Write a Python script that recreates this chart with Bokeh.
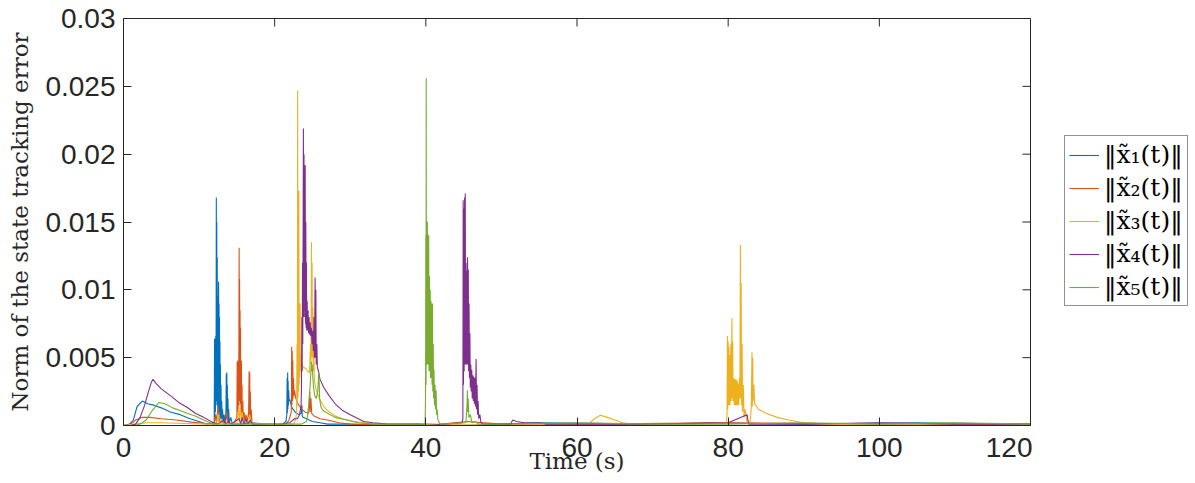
import math
from bokeh.plotting import figure
from bokeh.layouts import row
from bokeh.models import Range1d, FixedTicker
from bokeh.embed import file_html
from bokeh.resources import INLINE

# ---------------- data ----------------
series_names = ["‖x̃₁(t)‖", "‖x̃₂(t)‖", "‖x̃₃(t)‖", "‖x̃₄(t)‖", "‖x̃₅(t)‖"]
series_colors = ["#0072BD", "#D95319", "#EDB120", "#7E2F8E", "#77AC30"]

x_ticks = [0, 20, 40, 60, 80, 100, 120]
x_tick_labels = ["0", "20", "40", "60", "80", "100", "120"]
y_ticks = [0, 0.005, 0.01, 0.015, 0.02, 0.025, 0.03]
y_tick_labels = ["0", "0.005", "0.01", "0.015", "0.02", "0.025", "0.03"]

# (time [s], error norm)
err1 = [(0, 0), (0.8, 0.0001), (1.3, 0.0004), (1.8, 0.0014), (2.5, 0.0018), (3.2, 0.0016),
        (4.0, 0.0015), (5.0, 0.0013), (6.2, 0.0010), (7.5, 0.0008), (8.8, 0.0005),
        (10.0, 0.0003), (11.0, 0.0001), (12.0, 0.0002),
        (12.05, 0.0064), (12.08, 0.0006), (12.12, 0.0062), (12.16, 0.0010), (12.20, 0.0066),
        (12.24, 0.0015), (12.28, 0.0168), (12.31, 0.0020), (12.34, 0.0150), (12.37, 0.0018),
        (12.40, 0.0124), (12.43, 0.0015), (12.46, 0.0095), (12.49, 0.0012), (12.52, 0.0085),
        (12.55, 0.0010), (12.58, 0.0106), (12.61, 0.0012), (12.64, 0.0090), (12.67, 0.0010),
        (12.70, 0.0080), (12.73, 0.0008), (12.76, 0.0062), (12.79, 0.0006), (12.82, 0.0045),
        (12.86, 0.0005), (12.90, 0.0030), (12.95, 0.0004), (13.00, 0.0018), (13.05, 0.0003),
        (13.10, 0.0012), (13.20, 0.0002), (13.30, 0.0008), (13.45, 0.0002), (13.55, 0.0010),
        (13.60, 0.0038), (13.63, 0.0005), (13.67, 0.0039), (13.70, 0.0006), (13.74, 0.0030),
        (13.78, 0.0004), (13.82, 0.0020), (13.87, 0.0003), (13.92, 0.0012), (14.0, 0.0002),
        (14.2, 0.0006), (14.4, 0.0001), (15.5, 0.0001), (17.0, 0.0002), (19.0, 0.0001),
        (21.0, 0.0001), (21.5, 0.0003), (21.60, 0.0008), (21.65, 0.0035), (21.68, 0.0009),
        (21.72, 0.0039), (21.75, 0.0012), (21.78, 0.0033), (21.82, 0.0015), (21.86, 0.0026),
        (21.92, 0.0018), (22.0, 0.0019), (22.3, 0.0013), (22.7, 0.0010), (23.2, 0.0008),
        (23.5, 0.0009), (23.6, 0.0015), (23.65, 0.0007), (23.75, 0.0006), (24.2, 0.0005),
        (25.0, 0.0003), (26.0, 0.0002), (27.0, 0.0001), (30.0, 0.0001), (35.0, 0.0),
        (40.0, 0.0001), (45.0, 0.0), (55.0, 0.0002), (70.0, 0.0001), (78.0, 0.0002),
        (90.0, 0.0001), (105.0, 0.0002), (120.0, 0.0001)]

err2 = [(0, 0), (1.0, 0.0001), (1.6, 0.0004), (2.5, 0.0006), (3.5, 0.0006), (5.0, 0.0005),
        (7.0, 0.0004), (9.0, 0.00025), (11.0, 0.00015), (12.0, 0.0001), (12.2, 0.0008),
        (12.3, 0.0002), (12.5, 0.0014), (12.7, 0.0003), (13.5, 0.0002), (13.7, 0.0010),
        (13.8, 0.0002), (14.5, 0.0001), (15.00, 0.0006), (15.04, 0.0047), (15.08, 0.0010),
        (15.12, 0.0048), (15.16, 0.0012), (15.20, 0.0045), (15.24, 0.0015), (15.30, 0.0131),
        (15.33, 0.0020), (15.36, 0.0108), (15.39, 0.0018), (15.42, 0.0085), (15.45, 0.0015),
        (15.48, 0.0072), (15.51, 0.0012), (15.54, 0.0047), (15.57, 0.0010), (15.60, 0.0048),
        (15.64, 0.0008), (15.68, 0.0030), (15.72, 0.0006), (15.78, 0.0018), (15.85, 0.0004),
        (15.95, 0.0010), (16.05, 0.0003), (16.2, 0.0008), (16.4, 0.0003), (16.55, 0.0010),
        (16.62, 0.0040), (16.66, 0.0006), (16.70, 0.0039), (16.74, 0.0006), (16.78, 0.0025),
        (16.83, 0.0004), (16.90, 0.0012), (17.0, 0.0002), (17.3, 0.0001), (21.5, 0.0001),
        (21.9, 0.0004), (22.20, 0.0010), (22.25, 0.0058), (22.28, 0.0015), (22.32, 0.0055),
        (22.36, 0.0018), (22.40, 0.0048), (22.44, 0.0020), (22.50, 0.0035), (22.56, 0.0022),
        (22.62, 0.0026), (22.8, 0.0020), (23.0, 0.0017), (23.3, 0.0014), (23.6, 0.0012),
        (24.0, 0.0010), (24.5, 0.0009), (24.65, 0.0025), (24.7, 0.0010), (24.8, 0.0020),
        (24.9, 0.0009), (25.2, 0.0007), (26.0, 0.0005), (27.0, 0.0004), (28.5, 0.0002),
        (30.0, 0.0001), (40.0, 0.0), (45.5, 0.0003), (50.0, 0.0001), (60.0, 0.0001),
        (80.0, 0.0002), (100.0, 0.0001), (120.0, 0.0001)]

err3 = [(0, 0), (1.5, 0.0001), (3.0, 0.0002), (5.0, 0.0002), (8.0, 0.00015), (11.0, 0.0001),
        (12.3, 0.0001), (12.5, 0.0008), (12.6, 0.0002), (13.0, 0.0005), (13.2, 0.0001),
        (15.0, 0.0002), (15.2, 0.0012), (15.3, 0.0003), (15.45, 0.0016), (15.55, 0.0003),
        (15.7, 0.0010), (15.9, 0.0002), (16.6, 0.0003), (16.7, 0.0008), (16.9, 0.0002),
        (18.0, 0.0001), (22.5, 0.0001), (22.8, 0.0005), (22.90, 0.0010), (22.96, 0.0060),
        (23.00, 0.0015), (23.04, 0.0247), (23.08, 0.0020), (23.12, 0.0173), (23.16, 0.0025),
        (23.20, 0.0173), (23.24, 0.0030), (23.28, 0.0090), (23.32, 0.0035), (23.36, 0.0090),
        (23.40, 0.0040), (23.45, 0.0053), (23.5, 0.0046), (23.8, 0.0043), (24.1, 0.0042),
        (24.4, 0.0040), (24.6, 0.0039), (24.75, 0.0060), (24.80, 0.0045), (24.87, 0.0135),
        (24.91, 0.0050), (24.95, 0.0120), (25.00, 0.0050), (25.05, 0.0087), (25.10, 0.0040),
        (25.18, 0.0060), (25.25, 0.0033), (25.5, 0.0026), (26.0, 0.0019), (26.5, 0.0014),
        (27.0, 0.0011), (28.0, 0.0007), (29.0, 0.0005), (30.5, 0.0003), (32.0, 0.0002),
        (34.0, 0.0001), (40.0, 0.0001), (50.0, 0.0), (60.0, 0.0001), (61.5, 0.0001),
        (62.3, 0.0005), (63.1, 0.00075), (64.0, 0.0006), (65.0, 0.0004), (66.0, 0.0002),
        (67.5, 0.0001), (75.0, 0.0001), (79.8, 0.0002), (79.85, 0.0010), (79.9, 0.0066),
        (79.95, 0.0012), (80.0, 0.0062), (80.05, 0.0015), (80.1, 0.0058), (80.15, 0.0015),
        (80.2, 0.0052), (80.25, 0.0015), (80.35, 0.0060), (80.4, 0.0018), (80.5, 0.0079),
        (80.55, 0.0020), (80.6, 0.0062), (80.65, 0.0018), (80.75, 0.0035), (80.8, 0.0015),
        (80.9, 0.0034), (80.95, 0.0015), (81.05, 0.0034), (81.1, 0.0015), (81.2, 0.0033),
        (81.25, 0.0015), (81.35, 0.0031), (81.4, 0.0015), (81.5, 0.0035), (81.55, 0.0020),
        (81.62, 0.0133), (81.67, 0.0020), (81.72, 0.0105), (81.77, 0.0015), (81.85, 0.0060),
        (81.9, 0.0010), (82.0, 0.0030), (82.1, 0.0006), (82.25, 0.0012), (82.5, 0.0002),
        (82.9, 0.0003), (83.05, 0.0012), (83.15, 0.0054), (83.2, 0.0014), (83.25, 0.0050),
        (83.3, 0.0018), (83.4, 0.0030), (83.5, 0.0016), (83.65, 0.0015), (84.0, 0.0012),
        (85.0, 0.0009), (86.5, 0.0006), (88.0, 0.0004), (90.0, 0.0002), (93.0, 0.0001),
        (100.0, 0.0001), (110.0, 0.0001), (120.0, 0.0001)]

err4 = [(0, 0), (1.0, 0.0), (1.6, 0.0001), (2.2, 0.0006), (2.8, 0.0015), (3.3, 0.0025),
        (3.7, 0.0032), (3.9, 0.0034), (4.3, 0.0031), (5.0, 0.0027), (6.2, 0.0022),
        (7.3, 0.0017), (8.4, 0.00135), (9.5, 0.0009), (10.6, 0.0006), (11.9, 0.0002),
        (12.5, 0.0001), (13.3, 0.0004), (13.5, 0.0001), (13.9, 0.0003), (14.2, 0.0001),
        (15.3, 0.0005), (15.5, 0.0001), (15.7, 0.0006), (15.9, 0.0001), (16.2, 0.0005),
        (16.4, 0.0001), (16.8, 0.0004), (17.0, 0.0001), (20.0, 0.0), (22.0, 0.0002),
        (22.6, 0.0005), (23.0, 0.0005), (23.3, 0.0008), (23.5, 0.0015), (23.55, 0.0030),
        (23.60, 0.0080), (23.64, 0.0040), (23.68, 0.0120), (23.72, 0.0060), (23.80, 0.0219),
        (23.84, 0.0080), (23.88, 0.0200), (23.92, 0.0085), (23.96, 0.0190), (24.00, 0.0080),
        (24.04, 0.0192), (24.08, 0.0075), (24.12, 0.0150), (24.16, 0.0072), (24.20, 0.0120),
        (24.24, 0.0070), (24.30, 0.0092), (24.35, 0.0070), (24.42, 0.0085), (24.48, 0.0068),
        (24.55, 0.0080), (24.62, 0.0067), (24.70, 0.0076), (24.78, 0.0066), (24.85, 0.0072),
        (24.95, 0.0060), (25.05, 0.0070), (25.12, 0.0055), (25.20, 0.0080), (25.26, 0.0050),
        (25.35, 0.0109), (25.40, 0.0050), (25.45, 0.0100), (25.50, 0.0045), (25.58, 0.0060),
        (25.65, 0.0043), (25.8, 0.0040), (26.0, 0.0034), (26.5, 0.0028), (27.2, 0.0022),
        (28.0, 0.0016), (29.0, 0.0011), (30.0, 0.0008), (31.8, 0.0003), (33.0, 0.0002),
        (35.0, 0.0001), (39.0, 0.0001), (40.2, 0.0), (44.8, 0.0002), (44.90, 0.0005),
        (44.94, 0.0166), (44.98, 0.0030), (45.03, 0.0160), (45.07, 0.0040), (45.13, 0.0168),
        (45.17, 0.0045), (45.22, 0.0171), (45.26, 0.0045), (45.32, 0.0120), (45.36, 0.0045),
        (45.42, 0.0114), (45.46, 0.0045), (45.52, 0.0124), (45.56, 0.0045), (45.62, 0.0115),
        (45.66, 0.0040), (45.72, 0.0090), (45.77, 0.0035), (45.83, 0.0068), (45.88, 0.0028),
        (45.95, 0.0045), (46.00, 0.0025), (46.08, 0.0041), (46.14, 0.0020), (46.22, 0.0037),
        (46.28, 0.0018), (46.36, 0.0036), (46.42, 0.0016), (46.50, 0.0035), (46.56, 0.0014),
        (46.65, 0.0049), (46.70, 0.0012), (46.78, 0.0030), (46.84, 0.0008), (46.92, 0.0018),
        (47.0, 0.0005), (47.15, 0.0008), (47.3, 0.0002), (47.6, 0.0001), (50.0, 0.0001),
        (51.2, 0.0001), (51.5, 0.0004), (52.0, 0.0003), (53.0, 0.0002), (55.0, 0.0002),
        (56.0, 0.0001), (60.0, 0.0001), (70.0, 0.0001), (80.0, 0.0002), (82.5, 0.0008),
        (82.7, 0.0001), (90.0, 0.0001), (100.0, 0.0002), (110.0, 0.0001), (120.0, 0.0001)]

err5 = [(0, 0), (1.5, 0.0), (2.2, 0.0001), (3.0, 0.0004), (3.8, 0.0011), (4.7, 0.0017),
        (5.5, 0.0016), (6.5, 0.0013), (7.5, 0.0011), (8.4, 0.0009), (9.5, 0.0007),
        (10.6, 0.0004), (11.9, 0.0001), (13.0, 0.0001), (18.0, 0.0001), (22.0, 0.0001),
        (23.5, 0.0001), (24.2, 0.0003), (24.3, 0.0005), (24.5, 0.0015), (24.7, 0.0030),
        (24.87, 0.0047), (24.92, 0.0040), (24.97, 0.0045), (25.05, 0.0035), (25.15, 0.0028),
        (25.3, 0.0022), (25.5, 0.0020), (25.7, 0.0025), (25.8, 0.0036), (25.85, 0.0039),
        (25.9, 0.0030), (25.95, 0.0020), (26.1, 0.0014), (26.4, 0.0011), (27.0, 0.0009),
        (28.0, 0.0006), (29.5, 0.0004), (31.0, 0.0002), (33.0, 0.0001), (39.9, 0.0001),
        (39.96, 0.0020), (40.00, 0.0140), (40.03, 0.0030), (40.05, 0.0256), (40.08, 0.0045),
        (40.12, 0.0151), (40.16, 0.0045), (40.20, 0.0150), (40.24, 0.0045), (40.29, 0.0141),
        (40.33, 0.0045), (40.38, 0.0140), (40.42, 0.0040), (40.48, 0.0110), (40.52, 0.0040),
        (40.58, 0.0100), (40.62, 0.0035), (40.68, 0.0092), (40.72, 0.0035), (40.78, 0.0090),
        (40.82, 0.0030), (40.88, 0.0090), (40.92, 0.0025), (40.98, 0.0060), (41.03, 0.0020),
        (41.08, 0.0041), (41.14, 0.0015), (41.22, 0.0030), (41.28, 0.0012), (41.36, 0.0026),
        (41.42, 0.0008), (41.5, 0.0012), (41.6, 0.0004), (41.9, 0.0001), (45.3, 0.0002),
        (45.45, 0.0015), (45.5, 0.0026), (45.55, 0.0010), (45.6, 0.0020), (45.7, 0.0006),
        (45.9, 0.0008), (46.1, 0.0002), (46.5, 0.0003), (47.0, 0.0001), (50.0, 0.0001),
        (60.0, 0.0002), (70.0, 0.0001), (80.0, 0.0001), (90.0, 0.0002), (100.0, 0.0001),
        (110.0, 0.0002), (120.0, 0.0001)]

all_series = [err1, err2, err3, err4, err5]

# ---------------- main figure ----------------
AX = "#262626"
X0, X1 = x_ticks[0], x_ticks[-1]
Y0, Y1 = y_ticks[0], y_ticks[-1]
p = figure(width=1032, height=483,
           x_range=Range1d(X0, X1), y_range=Range1d(Y0, Y1),
           output_backend="svg", toolbar_location=None,
           min_border_left=123, min_border_right=2,
           min_border_top=18, min_border_bottom=58,
           background_fill_color="white", border_fill_color="white")
p.grid.visible = False
p.outline_line_color = AX
p.outline_line_width = 1

for data, col in zip(all_series, series_colors):
    ts = [d[0] for d in data]
    vs = [d[1] for d in data]
    p.line(ts, vs, line_color=col, line_width=1.1)

xa = p.xaxis[0]
xa.ticker = FixedTicker(ticks=x_ticks)
xa.major_label_overrides = {t: s for t, s in zip(x_ticks, x_tick_labels)}
xa.axis_label = "Time (s)"
ya = p.yaxis[0]
ya.ticker = FixedTicker(ticks=y_ticks)
ya.major_label_overrides = {t: s for t, s in zip(y_ticks, y_tick_labels)}
ya.axis_label = "Norm of the state tracking error"

for ax in (xa, ya):
    ax.axis_line_color = AX
    ax.major_tick_line_color = AX
    ax.major_tick_in = 8
    ax.major_tick_out = 0
    ax.minor_tick_line_color = None
    ax.major_label_text_font = "Liberation Sans"
    ax.major_label_text_font_size = "28px"
    ax.major_label_text_color = AX
    ax.axis_label_text_font = "DejaVu Serif"
    ax.axis_label_text_font_size = "23px"
    ax.axis_label_text_font_style = "normal"
    ax.axis_label_text_color = AX
xa.major_label_standoff = 12
xa.axis_label_standoff = -12
ya.major_label_standoff = 8
ya.axis_label_standoff = 9

# inward ticks on the top and right sides of the box (screen-length rays)
p.ray(x=x_ticks, y=[Y1] * len(x_ticks), length=8, length_units="screen",
      angle=-math.pi / 2, line_color=AX, line_width=1)
p.ray(x=[X1] * len(y_ticks), y=y_ticks, length=8, length_units="screen",
      angle=math.pi, line_color=AX, line_width=1)

# ---------------- legend panel (a figure holding only the legend) ----------------
# the same series are plotted here on a y-range that lies above the data, so only the legend shows
lf = figure(width=1195 - 1032, height=483, x_range=Range1d(X0, X1), y_range=Range1d(1, 2),
            x_axis_type=None, y_axis_type=None,
            output_backend="svg", toolbar_location=None,
            min_border_left=0, min_border_right=0, min_border_top=0, min_border_bottom=0,
            background_fill_color="white", border_fill_color="white")
lf.grid.visible = False
lf.outline_line_color = None
for data, name, col in zip(all_series, series_names, series_colors):
    lf.line([d[0] for d in data], [d[1] for d in data], line_color=col, line_width=1.1,
            legend_label=name)

lg = lf.legend[0]
lg.location = (32, 119)
lg.label_text_font = "DejaVu Serif"
lg.label_text_font_size = "25px"
lg.label_text_color = "black"
lg.glyph_width = 30
lg.glyph_height = 26
lg.label_height = 26
lg.label_standoff = 5
lg.spacing = 4
lg.padding = 4
lg.margin = 0
lg.border_line_color = AX
lg.border_line_width = 1
lg.background_fill_color = "white"
lg.background_fill_alpha = 1.0

layout = row(p, lf, spacing=0)
open("out.html", "w").write(file_html(layout, INLINE))
